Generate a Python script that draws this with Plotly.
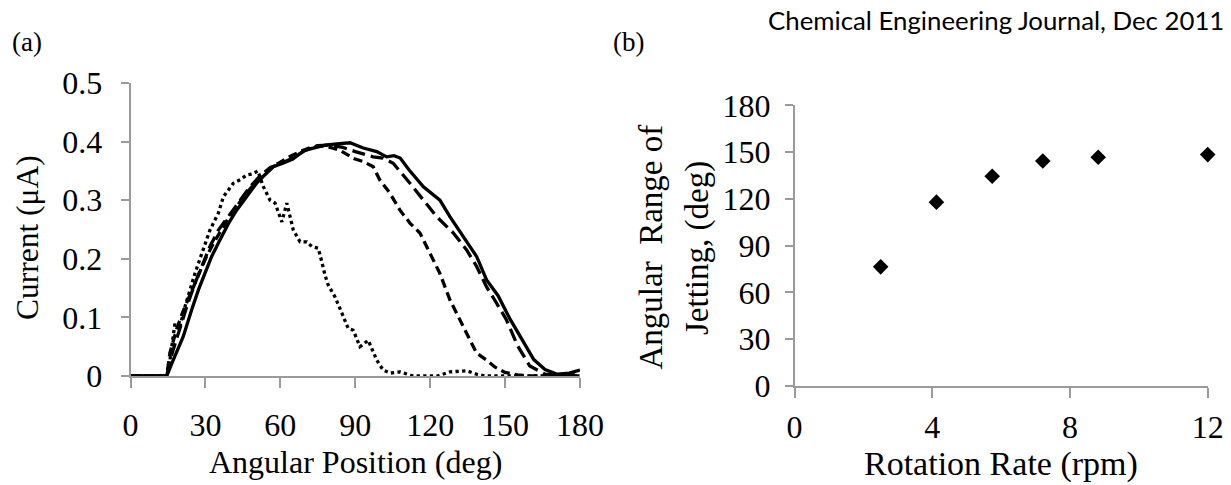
import plotly.graph_objects as go

# ---------------- data: panel (a) ----------------
solid_x = [0, 5, 10, 14.5, 17.1, 21.1, 24.5, 27.2, 29.8, 32.5, 35.8, 39.2, 42.5, 46.5, 50.5, 53, 57.2, 61, 65,
           69.6, 73.2, 78, 82.6, 87.9, 93.2, 98.6, 102.6, 105.5, 108, 111.5, 117.3, 123.9, 127.9, 133.3, 138.6,
           142.6, 147.2, 152, 156.7, 161.5, 166, 170.9, 175.7, 180]
solid_y = [0, 0, 0, 0, 0.027, 0.067, 0.113, 0.147, 0.175, 0.204, 0.232, 0.26, 0.283, 0.306, 0.329, 0.34, 0.357,
           0.363, 0.37, 0.385, 0.389, 0.394, 0.396, 0.398, 0.389, 0.383, 0.374, 0.376, 0.372, 0.352, 0.323, 0.3,
           0.272, 0.238, 0.204, 0.164, 0.137, 0.097, 0.063, 0.028, 0.011, 0.003, 0.005, 0.01]

longdash_x = [0, 5, 10, 14.5, 15.8, 19.1, 22.5, 25.8, 28.5, 31.8, 35.2, 39.2, 43.9, 47.9, 52, 56, 60, 65, 70, 75,
              80, 85, 90, 97.2, 101, 105.2, 111.9, 117.3, 122.6, 129.3, 134.6, 138.6, 142.6, 146.5, 150.4, 155.1,
              159.9, 166, 172, 180]
longdash_y = [0, 0, 0, 0, 0.027, 0.073, 0.118, 0.158, 0.187, 0.221, 0.249, 0.272, 0.3, 0.323, 0.342, 0.356, 0.362,
              0.372, 0.385, 0.393, 0.394, 0.39, 0.383, 0.374, 0.372, 0.363, 0.329, 0.3, 0.272, 0.244, 0.215, 0.187,
              0.152, 0.125, 0.097, 0.051, 0.017, 0.003, 0.002, 0.003]

dash_x = [0, 5, 10, 14.5, 15.8, 18.5, 21, 24, 27, 30, 33, 36.4, 40, 43, 47, 51, 55.4, 60, 64, 68, 72, 76, 80, 84,
          89.4, 93.2, 97.2, 99.9, 103.9, 107.9, 111.9, 115.9, 119.9, 123.9, 127.9, 131.9, 135.9, 138.6, 142.6, 146,
          150, 155, 160, 170, 180]
dash_y = [0, 0, 0, 0, 0.04, 0.08, 0.11, 0.14, 0.17, 0.2, 0.225, 0.25, 0.275, 0.292, 0.315, 0.335, 0.353, 0.365,
          0.375, 0.383, 0.39, 0.393, 0.39, 0.385, 0.371, 0.366, 0.357, 0.334, 0.312, 0.283, 0.261, 0.244, 0.209,
          0.175, 0.13, 0.096, 0.061, 0.039, 0.027, 0.015, 0.006, 0.002, 0, 0, 0]

dot_x = [0, 5, 10, 14, 15.1, 17.8, 19.5, 21.8, 25.8, 28.5, 31.8, 35.2, 37.2, 41.2, 44, 46.5, 49, 51, 53.2, 55.9,
         57.9, 60.6, 62.6, 63.9, 65.2, 67.9, 70.6, 72.6, 75.2, 76.6, 77.9, 79.2, 81.9, 83.9, 85.9, 87.2, 89.2, 91.9,
         95.2, 98.6, 101.2, 104, 107.9, 113.3, 118.6, 123, 127.9, 134.6, 138.6, 142, 150, 160, 170, 180]
dot_y = [0, 0, 0, 0, 0.005, 0.09, 0.08, 0.118, 0.175, 0.209, 0.249, 0.278, 0.306, 0.329, 0.335, 0.343, 0.345, 0.35,
         0.323, 0.3, 0.295, 0.263, 0.295, 0.272, 0.249, 0.229, 0.229, 0.221, 0.218, 0.195, 0.172, 0.155, 0.135,
         0.115, 0.093, 0.081, 0.078, 0.05, 0.061, 0.027, 0.01, 0.005, 0.007, 0, 0, 0, 0.007, 0.009, 0.003, 0, 0, 0,
         0, 0]

# ---------------- data: panel (b) ----------------
rate_rpm = [2.5, 4.12, 5.74, 7.21, 8.82, 12.0]
jet_range = [76.4, 117.9, 134.5, 144.3, 146.7, 148.4]

a_xticks = [0, 30, 60, 90, 120, 150, 180]
a_yticks = [0, 0.1, 0.2, 0.3, 0.4, 0.5]
b_xticks = [0, 4, 8, 12]
b_yticks = [0, 30, 60, 90, 120, 150, 180]

W, H = 1231, 485
SERIF = "Liberation Serif, Times New Roman, serif"
GREY = "#9a9a9a"


def px(x):
    return x / W


def py(y):
    return (H - y) / H


fig = go.Figure()
line_specs = [
    (dot_x, dot_y, "dot"),
    (dash_x, dash_y, "9px,5px"),
    (longdash_x, longdash_y, "13px,6px"),
    (solid_x, solid_y, "solid"),
]
for xs, ys, dash in line_specs:
    fig.add_trace(go.Scatter(x=xs, y=ys, mode="lines", xaxis="x", yaxis="y",
                             line=dict(color="black", width=3.3, dash=dash, shape="linear"),
                             showlegend=False, hoverinfo="skip"))

fig.add_trace(go.Scatter(x=rate_rpm, y=jet_range, mode="markers", xaxis="x2", yaxis="y2",
                         marker=dict(symbol="diamond", size=12, color="black"),
                         cliponaxis=False, showlegend=False))

axis_common = dict(showline=True, linecolor=GREY, linewidth=1.5, ticks="outside", tickcolor=GREY,
                   tickwidth=1.5, showgrid=False, zeroline=False, automargin=False,
                   tickfont=dict(family=SERIF, size=32, color="black"))

fig.update_layout(
    width=W, height=H, margin=dict(l=0, r=0, t=0, b=0, autoexpand=False),
    paper_bgcolor="white", plot_bgcolor="white",
    xaxis=dict(domain=[px(130.5), px(580)], range=[0, 180], tickvals=a_xticks, ticklen=10,
               anchor="y", ticklabelstandoff=10, **axis_common),
    yaxis=dict(domain=[py(376), py(83)], range=[0, 0.5], tickvals=a_yticks, ticklen=8,
               anchor="x", ticklabelstandoff=12, **axis_common),
    xaxis2=dict(domain=[px(794.6), px(1207.7)], range=[0, 12], tickvals=b_xticks, ticklen=10,
                anchor="y2", ticklabelstandoff=2, **axis_common),
    yaxis2=dict(domain=[py(386), py(105.3)], range=[0, 180], tickvals=b_yticks, ticklen=8,
                anchor="x2", ticklabelstandoff=8, **axis_common),
)

ann = [
    dict(text="(a)", x=px(27), y=py(42), size=27, angle=0, family=SERIF, xanchor="center"),
    dict(text="(b)", x=px(628), y=py(42), size=27, angle=0, family=SERIF, xanchor="center"),
    dict(text="Chemical Engineering Journal, Dec 2011", x=px(766), y=py(20), size=25.8, angle=0,
         family="Lato, Carlito, Open Sans, sans-serif", xanchor="left"),
    dict(text="Current (μA)", x=px(27), y=py(238), size=31.5, angle=-90, family=SERIF, xanchor="center"),
    dict(text="Angular Position (deg)", x=px(355), y=py(462), size=32, angle=0, family=SERIF, xanchor="center"),
    dict(text="Rotation Rate (rpm)", x=px(1001), y=py(464), size=34, angle=0, family=SERIF, xanchor="center"),
    dict(text="Angular  Range of", x=px(651), y=py(247.5), size=33, angle=-90, family=SERIF, xanchor="center"),
    dict(text="Jetting, (deg)", x=px(698), y=py(248), size=33, angle=-90, family=SERIF, xanchor="center"),
]
for a in ann:
    fig.add_annotation(text=a["text"], x=a["x"], y=a["y"], xref="paper", yref="paper",
                       xanchor=a["xanchor"], yanchor="middle", textangle=a["angle"], showarrow=False,
                       font=dict(family=a["family"], size=a["size"], color="black"))

fig.write_html("out.html")
